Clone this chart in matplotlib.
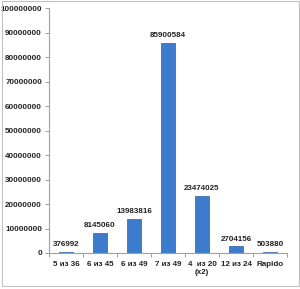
import numpy as np
import matplotlib.pyplot as plt
from matplotlib.patches import Rectangle

plt.rcParams['font.family'] = ['Liberation Sans', 'DejaVu Sans']

categories = ['5 из 36', '6 из 45', '6 из 49', '7 из 49', '4  из 20\n(x2)', '12 из 24', 'Rapido']
values = [376992, 8145060, 13983816, 85900584, 23474025, 2704156, 503880]
yticks = np.arange(0, 100000001, 10000000)

fs = 5.8
fig = plt.figure(figsize=(3.0, 2.89), dpi=100, facecolor='white')
ax = fig.add_axes([0.163, 0.1246, 0.794, 0.8474])

x = np.arange(len(categories))
ax.bar(x, values, width=0.42, color='#3d7bcc', edgecolor='#2c5f9e', linewidth=0.5, zorder=2)

for xi, v in zip(x, values):
    ax.text(xi, v + 1500000, str(v), ha='center', va='bottom', fontsize=fs,
            fontweight='bold', color='#222222')

ax.set_xlim(-0.5, len(categories) - 0.5)
ax.set_ylim(0, 100000000)
ax.set_yticks(yticks)
ax.set_yticklabels([str(t) for t in yticks], fontsize=fs, fontweight='bold', color='#222222')

ax.set_xticks(x)
ax.set_xticklabels(categories, fontsize=fs, fontweight='bold', color='#222222', va='top')
ax.set_xticks(np.arange(-0.5, len(categories)), minor=True)
ax.tick_params(axis='x', which='major', length=0, pad=6)
ax.tick_params(axis='x', which='minor', length=3, color='#a0a0a0', width=0.7)
ax.tick_params(axis='y', length=3, color='#a0a0a0', width=0.7, pad=2)

for s in ['top', 'right']:
    ax.spines[s].set_visible(False)
for s in ['left', 'bottom']:
    ax.spines[s].set_color('#a0a0a0')
    ax.spines[s].set_linewidth(0.8)

fig.patches.append(Rectangle((0.005, 0.01), 0.99, 0.985, transform=fig.transFigure,
                             fill=False, edgecolor='#c0c0c0', linewidth=0.8))

fig.savefig('out.png', dpi=100, facecolor='white')
